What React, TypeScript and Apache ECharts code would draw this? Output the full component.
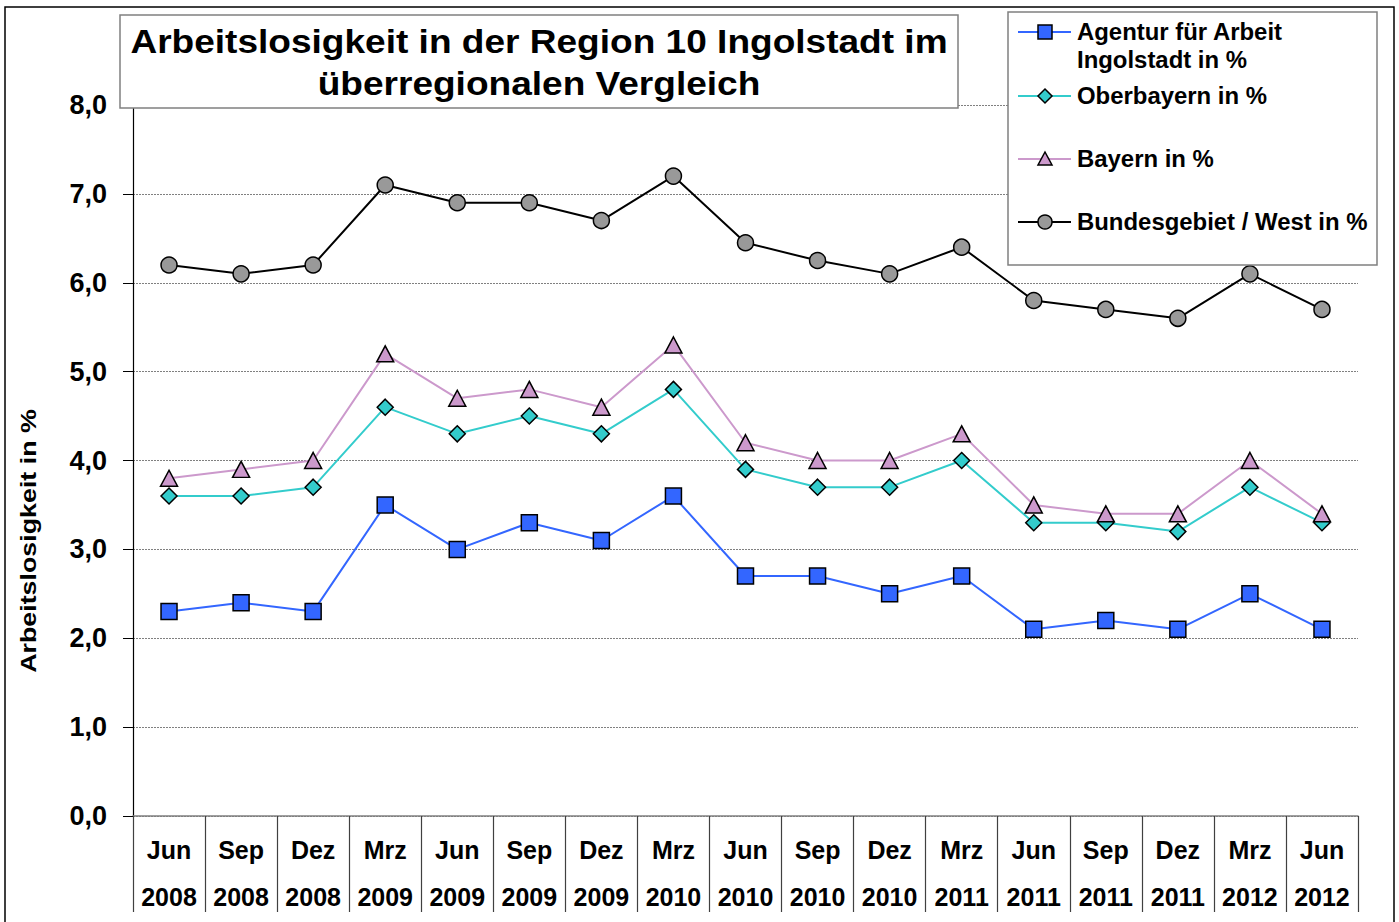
import React, { useEffect, useRef } from "react";
import * as echarts from "echarts";

const categories = [
  "Jun 2008", "Sep 2008", "Dez 2008", "Mrz 2009", "Jun 2009", "Sep 2009", "Dez 2009",
  "Mrz 2010", "Jun 2010", "Sep 2010", "Dez 2010", "Mrz 2011", "Jun 2011", "Sep 2011",
  "Dez 2011", "Mrz 2012", "Jun 2012",
];
const agentur = [2.3, 2.4, 2.3, 3.5, 3.0, 3.3, 3.1, 3.6, 2.7, 2.7, 2.5, 2.7, 2.1, 2.2, 2.1, 2.5, 2.1];
const oberbayern = [3.6, 3.6, 3.7, 4.6, 4.3, 4.5, 4.3, 4.8, 3.9, 3.7, 3.7, 4.0, 3.3, 3.3, 3.2, 3.7, 3.3];
const bayern = [3.8, 3.9, 4.0, 5.2, 4.7, 4.8, 4.6, 5.3, 4.2, 4.0, 4.0, 4.3, 3.5, 3.4, 3.4, 4.0, 3.4];
const bund = [6.2, 6.1, 6.2, 7.1, 6.9, 6.9, 6.7, 7.2, 6.45, 6.25, 6.1, 6.4, 5.8, 5.7, 5.6, 6.1, 5.7];

const seriesNames = [
  "Agentur für Arbeit Ingolstadt in %",
  "Oberbayern in %",
  "Bayern in %",
  "Bundesgebiet / West in %",
];
const legendLabels = [
  "Agentur für Arbeit\nIngolstadt in %",
  "Oberbayern in %",
  "Bayern in %",
  "Bundesgebiet / West in %",
];
const titleText = "Arbeitslosigkeit in der Region 10 Ingolstadt im\nüberregionalen Vergleich";
const yAxisTitle = "Arbeitslosigkeit in %";

const FONT = "'Liberation Sans', Arial, Helvetica, sans-serif";
const BLUE = "#3366FF";
const TEAL = "#33CCCC";
const LAV = "#CC99CC";
const GREY = "#999999";

export default function App() {
  const ref = useRef<HTMLDivElement>(null);
  useEffect(() => {
    if (!ref.current) return;
    const chart = echarts.init(ref.current, null, { renderer: "svg" });
    const mkSeries = (name: string, data: number[], color: string, symbol: string, size: any, lineColor: string, z: number) => ({
      name,
      type: "line",
      data,
      symbol,
      symbolSize: size,
      z,
      lineStyle: { color: lineColor, width: 2 },
      itemStyle: { color, borderColor: "#000", borderWidth: 1.5 },
      emphasis: { disabled: true },
    });
    const legendY = [32, 96, 159, 222];
    const lx0 = 1018, lx1 = 1071, mx = 1045;
    const legendGraphics: any[] = [];
    const lineColors = [BLUE, TEAL, LAV, "#000"];
    legendY.forEach((y, i) => {
      legendGraphics.push({
        type: "line", z: 101,
        shape: { x1: lx0, y1: y, x2: lx1, y2: y },
        style: { stroke: lineColors[i], lineWidth: 2 },
      });
    });
    legendGraphics.push({ type: "rect", z: 102, shape: { x: mx - 7, y: legendY[0] - 7, width: 14, height: 14 }, style: { fill: BLUE, stroke: "#000", lineWidth: 1.5 } });
    legendGraphics.push({ type: "polygon", z: 102, shape: { points: [[mx, legendY[1] - 7], [mx + 7, legendY[1]], [mx, legendY[1] + 7], [mx - 7, legendY[1]]] }, style: { fill: TEAL, stroke: "#000", lineWidth: 1.5 } });
    legendGraphics.push({ type: "polygon", z: 102, shape: { points: [[mx, legendY[2] - 7], [mx + 7, legendY[2] + 6], [mx - 7, legendY[2] + 6]] }, style: { fill: LAV, stroke: "#000", lineWidth: 1.5 } });
    legendGraphics.push({ type: "circle", z: 102, shape: { cx: mx, cy: legendY[3], r: 7 }, style: { fill: GREY, stroke: "#000", lineWidth: 1.5 } });
    legendY.forEach((y, i) => {
      legendGraphics.push({
        type: "text", z: 102,
        x: 1077, y: y - 14, scaleX: 1.04,
        style: {
          text: legendLabels[i],
          font: `bold 23px ${FONT}`,
          fill: "#000",
          textAlign: "left",
          textVerticalAlign: "top",
          lineHeight: 28,
        },
      });
    });

    chart.setOption({
      animation: false,
      backgroundColor: "#fff",
      grid: { left: 133, right: 41, top: 105, bottom: 106, containLabel: false },
      xAxis: {
        type: "category",
        data: categories,
        boundaryGap: true,
        axisLine: { show: true, lineStyle: { color: "#808080", width: 1.5 } },
        axisTick: { show: true, interval: 0, length: 96, lineStyle: { color: "#404040", width: 1.2 } },
        axisLabel: {
          interval: 0,
          margin: 10,
          formatter: (v: string) => v.replace(" ", "\n"),
          fontFamily: FONT,
          fontWeight: "bold",
          fontSize: 25,
          lineHeight: 47,
          color: "#000",
        },
        splitLine: { show: false },
      },
      yAxis: {
        type: "value",
        min: 0,
        max: 8,
        interval: 1,
        axisLine: { show: true, lineStyle: { color: "#000", width: 1.2 } },
        axisTick: { show: true, length: 10, lineStyle: { color: "#000" } },
        axisLabel: {
          margin: 26,
          formatter: (v: number) => v.toFixed(1).replace(".", ","),
          fontFamily: FONT,
          fontWeight: "bold",
          fontSize: 27,
          color: "#000",
        },
        splitLine: { show: true, lineStyle: { color: "#808080", type: [2, 1], width: 1 } },
      },
      series: [
        mkSeries(seriesNames[0], agentur, BLUE, "rect", 16, BLUE, 3),
        mkSeries(seriesNames[1], oberbayern, TEAL, "diamond", [16, 16], TEAL, 4),
        mkSeries(seriesNames[2], bayern, LAV, "triangle", [17, 16], LAV, 5),
        mkSeries(seriesNames[3], bund, GREY, "circle", 16, "#000", 6),
      ],
      graphic: [
        { type: "rect", z: -10, silent: true, shape: { x: 5, y: 7, width: 1389, height: 930 }, style: { fill: "none", stroke: "#000", lineWidth: 1.5 } },
        { type: "rect", z: 100, shape: { x: 120, y: 15, width: 838, height: 93 }, style: { fill: "#fff", stroke: "#808080", lineWidth: 1.5 } },
        {
          type: "text", z: 101, x: 539, y: 63, scaleX: 1.09,
          style: {
            text: titleText,
            font: `bold 34px ${FONT}`,
            fill: "#000",
            textAlign: "center",
            textVerticalAlign: "middle",
            lineHeight: 42,
          },
        },
        { type: "rect", z: 100, shape: { x: 1008, y: 12, width: 369, height: 253 }, style: { fill: "#fff", stroke: "#808080", lineWidth: 1.5 } },
        ...legendGraphics,
        {
          type: "text", z: 101, x: 28, y: 541, rotation: Math.PI / 2, scaleX: 1.22,
          style: {
            text: yAxisTitle,
            font: `bold 22px ${FONT}`,
            fill: "#000",
            textAlign: "center",
            textVerticalAlign: "middle",
          },
        },
      ],
    });
    return () => chart.dispose();
  }, []);
  return <div ref={ref} style={{ position: "fixed", left: 0, top: 0, width: 1399, height: 922 }} />;
}
